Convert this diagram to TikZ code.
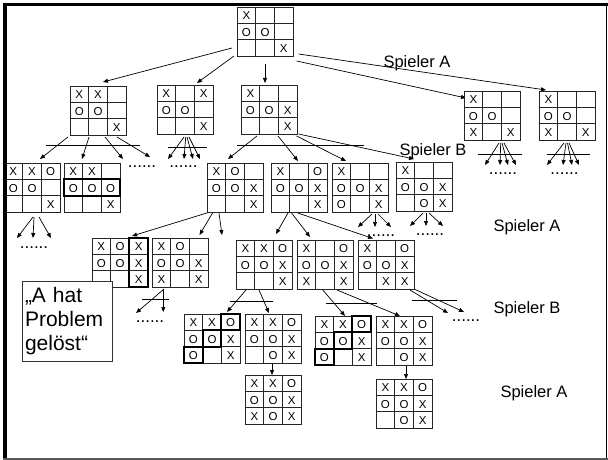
\documentclass[tikz,border=0pt]{standalone}
\usepackage{fontspec}
\setmainfont{Liberation Sans}
\usetikzlibrary{arrows.meta,calc}
\pgfdeclarelayer{bg}
\pgfsetlayers{bg,main}
\tikzset{
  brd/.style={draw=black!85, fill=white, line width=0.8pt, minimum width=56pt, minimum height=49pt, inner sep=0pt, outer sep=0pt, anchor=north west},
  grd/.style={draw=black!85, line width=0.8pt},
  mk/.style={font=\fontsize{11.5}{12}\selectfont, inner sep=0pt},
  hl/.style={draw=black, line width=1.8pt},
  arr/.style={-{Triangle[length=5pt,width=4pt]}, line width=0.7pt},
  bar/.style={line width=0.7pt},
  lbl/.style={font=\fontsize{16.5}{18}\selectfont, anchor=base, inner sep=0pt},
  dotsx/.style={font=\fontsize{17}{18}\selectfont, anchor=base, inner sep=0pt},
}
\def\nomark{-}
\newcommand\tttboard[4]{%
  \node[brd] (#1) at (#2,#3) {};
  \draw[grd] ($(#1.north west)+(18.667,0)$) -- ++(0,49)
             ($(#1.north west)+(37.333,0)$) -- ++(0,49)
             ($(#1.north west)+(0,16.333)$) -- ++(56,0)
             ($(#1.north west)+(0,32.667)$) -- ++(56,0);
  \foreach \v [count=\i from 0] in {#4} {%
    \pgfmathtruncatemacro\tcol{mod(\i,3)}%
    \pgfmathtruncatemacro\trow{int(\i/3)}%
    \ifx\v\nomark\else
      \node[mk] (#1-\i) at ($(#1.north west)+({(\tcol+0.5)*18.667},{(\trow+0.5)*16.333+0.8})$) {\v};
    \fi
  }%
}
\newcommand\conn[4]{\draw[arr] ($(#1.north west)+(#2)$) -- ($(#3.north west)+(#4)$);}
\newcommand\connf[3]{\draw[arr] ($(#1.north west)+(#2)$) -- (#3);}
\begin{document}
\begin{tikzpicture}[x=1pt,y=-1pt]
\useasboundingbox (0,0) rectangle (608,460);
% boards
\tttboard{R}{237}{7}{X,-,-,O,O,-,-,-,X}
\tttboard{B1}{70}{86}{X,X,-,O,O,-,-,-,X}
\tttboard{B2}{157}{85}{X,-,X,O,O,-,-,-,X}
\tttboard{B3}{241}{85}{X,-,-,O,O,X,-,-,X}
\tttboard{B4}{464}{91}{X,-,-,O,O,-,X,-,X}
\tttboard{B5}{539}{91}{X,-,-,O,O,-,X,-,X}
\tttboard{C1}{4}{163}{X,X,O,O,O,-,-,-,X}
\tttboard{C2}{64}{163}{X,X,-,O,O,O,-,-,X}
\tttboard{C3}{207}{163}{X,O,-,O,O,X,-,-,X}
\tttboard{C4}{271}{163}{X,-,O,O,O,X,-,-,X}
\tttboard{C5}{332}{163}{X,-,-,O,O,X,O,-,X}
\tttboard{C6}{396}{162}{X,-,-,O,O,X,-,O,X}
\tttboard{D1}{92}{238}{X,O,X,O,O,X,-,-,X}
\tttboard{D2}{152}{238}{X,O,-,O,O,X,X,-,X}
\tttboard{D3}{236}{240}{X,X,O,O,O,X,-,-,X}
\tttboard{D4}{297}{240}{X,-,O,O,O,X,X,-,X}
\tttboard{D5}{358}{240}{X,-,O,O,O,X,-,X,X}
\tttboard{E1}{184}{314}{X,X,O,O,O,X,O,-,X}
\tttboard{E2}{245}{314}{X,X,O,O,O,X,-,O,X}
\tttboard{E3}{315}{316}{X,X,O,O,O,X,O,-,X}
\tttboard{E4}{376}{316}{X,X,O,O,O,X,-,O,X}
\tttboard{F1}{245}{375}{X,X,O,O,O,X,X,O,X}
\tttboard{F2}{376}{379}{X,X,O,O,O,X,-,O,X}
% highlights
\draw[hl] ($(C2.north west)+(0,16.333)$) rectangle ++(56,16.333);
\draw[hl] ($(D1.north west)+(37.333,0)$) rectangle ++(18.667,49);
\foreach \b in {E1,E3}{
  \draw[hl] ($(\b.north west)+(37.333,0)$) rectangle ++(18.667,16.333);
  \draw[hl] ($(\b.north west)+(18.667,16.333)$) rectangle ++(18.667,16.333);
  \draw[hl] ($(\b.north west)+(0,32.667)$) rectangle ++(18.667,16.333);
}
% free ends
\coordinate (fB1a) at (123,159); \coordinate (fB1b) at (150,157);
\coordinate (fB2a) at (168,159); \coordinate (fB2b) at (184,159);
\coordinate (fB2c) at (193,159); \coordinate (fB2d) at (200,159);
\coordinate (fB4a) at (485,165); \coordinate (fB4b) at (500,165);
\coordinate (fB4c) at (508,165); \coordinate (fB4d) at (516,165);
\coordinate (fB5a) at (547,165); \coordinate (fB5b) at (563,165);
\coordinate (fB5c) at (572,165); \coordinate (fB5d) at (579,165);
\coordinate (fC1a) at (17,238); \coordinate (fC1b) at (33,238); \coordinate (fC1c) at (51,238);
\coordinate (fC3) at (222,235);
\coordinate (fC5a) at (358,227); \coordinate (fC5b) at (375,227); \coordinate (fC5c) at (391,227);
\coordinate (fC6a) at (410,226); \coordinate (fC6b) at (426,226); \coordinate (fC6c) at (443,226);
\coordinate (fD2a) at (136,313); \coordinate (fD2b) at (163.3,312);
\coordinate (fD5a) at (448,313); \coordinate (fD5b) at (464,312);
\begin{pgfonlayer}{bg}
% root
\conn{R}{-5,41}{B1}{33,-4}
\conn{R}{-3,49}{B2}{40,-2}
\conn{R}{28,57}{B3}{24,-2}
\conn{R}{59.6,54}{B4}{2,7}
\conn{R}{61.6,47}{B5}{7,-1}
% B1
\conn{B1}{-2,51}{C1}{36,-4}
\conn{B1}{19,51}{C2}{18,-4}
\connf{B1}{35,51}{fB1a}
\connf{B1}{47,51}{fB1b}
% B2
\connf{B2}{27,52}{fB2a}
\connf{B2}{28.7,52}{fB2b}
\connf{B2}{30,52}{fB2c}
\connf{B2}{32,52}{fB2d}
% B3
\conn{B3}{16,51}{C3}{21,-4}
\conn{B3}{37,51}{C4}{27,-2}
\conn{B3}{55.6,51}{C5}{14,-2}
\conn{B3}{57.6,49}{C6}{18,-3}
% B4, B5
\connf{B4}{35,52}{fB4a}
\connf{B4}{36.7,52}{fB4b}
\connf{B4}{38,52}{fB4c}
\connf{B4}{40,52}{fB4d}
\connf{B5}{25,52}{fB5a}
\connf{B5}{27,52}{fB5b}
\connf{B5}{28.5,52}{fB5c}
\connf{B5}{30,52}{fB5d}
% C1
\connf{C1}{29,54}{fC1a}
\connf{C1}{30,54}{fC1b}
\connf{C1}{35,54}{fC1c}
% C3
\conn{C3}{3,49}{D1}{40,-2}
\conn{C3}{5.5,50}{D2}{47.5,-3}
\connf{C3}{12,50}{fC3}
% C4
\conn{C4}{17,50}{D3}{40,-6}
\conn{C4}{20.6,50}{D4}{13,-3}
\conn{C4}{26.8,50}{D5}{15,-1.5}
% C5, C6
\connf{C5}{40,51}{fC5a}
\connf{C5}{43,51}{fC5b}
\connf{C5}{46,51}{fC5c}
\connf{C6}{27,51}{fC6a}
\connf{C6}{30,51}{fC6b}
\connf{C6}{33,51}{fC6c}
% D level
\connf{D2}{12,51}{fD2a}
\connf{D2}{11.3,52}{fD2b}
\conn{D3}{10,50}{E1}{43,-2}
\conn{D3}{23,50}{E2}{24,-1}
\conn{D4}{25,49}{E3}{30,0}
\conn{D4}{40,50}{E4}{24,0}
\connf{D5}{52,50}{fD5a}
\connf{D5}{56,49}{fD5b}
% E level
\conn{E2}{27,48}{F1}{27,0}
\conn{E4}{30,49}{F2}{30,0}
\end{pgfonlayer}
% bars
\draw[bar] (46,145) -- (140,145);
\draw[bar] (168,147) -- (207,147);
\draw[bar] (237,145) -- (364,145);
\draw[bar] (478,154) -- (522,154);
\draw[bar] (547,154) -- (590,154);
\draw[bar] (142,299) -- (169,299);
\draw[bar] (230,301) -- (273,301);
\draw[bar] (326,303) -- (377,303);
\draw[bar] (412,300) -- (457,300);
% dots
\node[dotsx] (dA) at (142,167) {......};
\node[dotsx] (dB) at (183.5,167) {......};
\node[dotsx] (dC) at (503,174) {......};
\node[dotsx] (dD) at (564.5,174) {......};
\node[dotsx] (dE) at (34,248) {......};
\node[dotsx] (dF) at (381,236) {......};
\node[dotsx] (dG) at (430,235) {......};
\node[dotsx] (dH) at (150,322) {......};
\node[dotsx] (dI) at (466,321) {......};
% labels
\node[lbl] (lA1) at (417,68) {Spieler A};
\node[lbl] (lB1) at (433,155) {Spieler B};
\node[lbl] (lA2) at (527,231) {Spieler A};
\node[lbl] (lB2) at (527,313) {Spieler B};
\node[lbl] (lA3) at (534,397) {Spieler A};
% text box
\node[draw=black!80, fill=white, line width=0.8pt, text width=84pt, inner xsep=3pt, inner ysep=0pt,
      minimum height=80pt, align=left, font=\fontsize{21}{24}\selectfont] (tb) at (67,321)
      {„A hat\\Problem\\gelöst“};
% frame
\draw[line width=3.5pt] (3,4.5) -- (608,4.5);
\draw[line width=3.5pt] (5,3) -- (5,460);
\draw[line width=0.8pt] (606.5,3) -- (606.5,459);
\draw[line width=2pt, black!65] (3,459) -- (608,459);
\end{tikzpicture}
\end{document}
